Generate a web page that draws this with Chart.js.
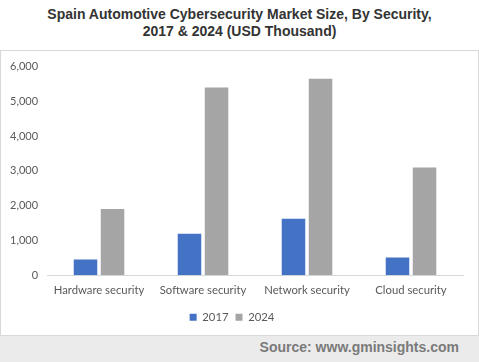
<!DOCTYPE html>
<html>
<head>
<meta charset="utf-8">
<script src="https://cdn.jsdelivr.net/npm/chart.js@4.4.1/dist/chart.umd.min.js"></script>
<style>
  html, body { margin: 0; padding: 0; }
  body { width: 479px; height: 362px; background: #ebebeb; position: relative; overflow: hidden; }
  #top { position: absolute; left: 0; top: 0; width: 479px; height: 50px; background: #fff; }
  #title {
    position: absolute; left: 0; top: 6px; width: 479px; text-align: center;
    font: bold 14px "Liberation Sans", Arial, sans-serif; color: #333; line-height: 17px;
  }
  #box {
    position: absolute; left: 0; top: 50px; width: 477px; height: 284px;
    background: #fff; border: 1px solid #d9d9d9;
  }
  #source {
    position: absolute; right: 20px; top: 339px;
    font: bold 14px "Liberation Sans", Arial, sans-serif; color: #7a7a7a;
  }
</style>
</head>
<body>
<div id="top">
  <div id="title">Spain Automotive Cybersecurity Market Size, By Security,<br>2017 &amp; 2024 (USD Thousand)</div>
</div>
<div id="box"><canvas id="barChart" width="477" height="284"></canvas></div>
<div id="source">Source: www.gminsights.com</div>

<script>
const categories = ['Hardware security', 'Software security', 'Network security', 'Cloud security'];
const years = ['2017', '2024'];
const values2017 = [450, 1190, 1620, 510];
const values2024 = [1900, 5400, 5650, 3100];
const yTicks = [0, 1000, 2000, 3000, 4000, 5000, 6000];

document.addEventListener("DOMContentLoaded", () => {
    initBarChart();
});

function initBarChart() {
    const ctx = document.getElementById("barChart");
    if (!ctx) return;

    const tickFont = { family: 'Lato', size: 11.3 };

    new Chart(ctx, {
        type: 'bar',
        data: {
            labels: categories,
            datasets: [{
                label: years[0],
                data: values2017,
                backgroundColor: '#4472c4',
                categoryPercentage: 0.52,
                barPercentage: 0.87
            }, {
                label: years[1],
                data: values2024,
                backgroundColor: '#a5a5a5',
                categoryPercentage: 0.52,
                barPercentage: 0.87
            }]
        },
        options: {
            responsive: false,
            animation: false,
            layout: {
                padding: { top: 2, right: 15, left: 0, bottom: 2 }
            },
            plugins: {
                legend: {
                    position: 'bottom',
                    labels: {
                        boxWidth: 7,
                        boxHeight: 7,
                        padding: 7,
                        color: '#595959',
                        font: tickFont
                    }
                },
                tooltip: { enabled: false }
            },
            scales: {
                x: {
                    grid: { display: false, drawTicks: false },
                    border: { color: '#d9d9d9' },
                    ticks: { color: '#595959', font: tickFont, padding: 8 }
                },
                y: {
                    min: 0,
                    max: 6000,
                    afterBuildTicks: axis => {
                        axis.ticks = yTicks.map(v => ({ value: v }));
                    },
                    grid: { display: false, drawTicks: false },
                    border: { display: false },
                    ticks: {
                        color: '#595959',
                        font: { family: 'Lato', size: 11 },
                        padding: 9,
                        callback: v => v.toLocaleString('en-US')
                    }
                }
            }
        }
    });
}
</script>
</body>
</html>
